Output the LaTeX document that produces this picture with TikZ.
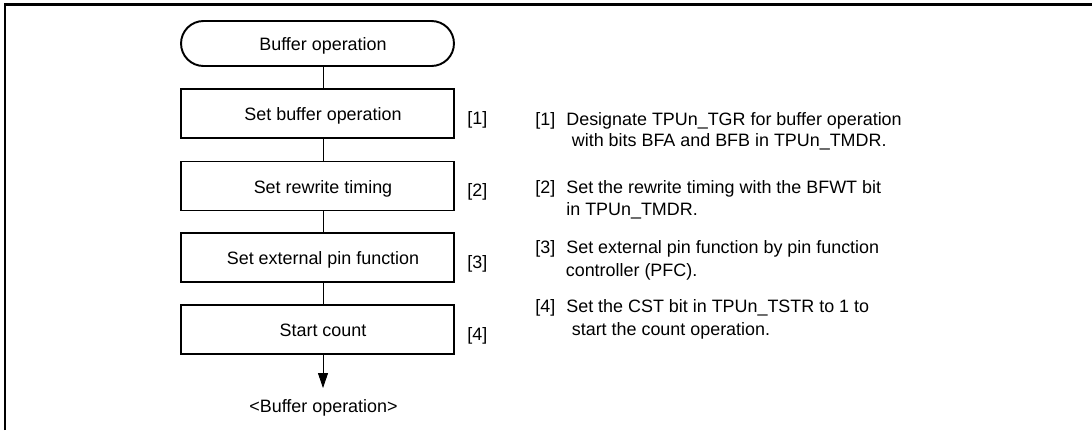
\documentclass[tikz,border=0pt]{standalone}
\usepackage{fontspec}
\setmainfont{Liberation Sans}
\usetikzlibrary{arrows.meta}
\newcommand{\shf}{\hspace*{0.22cm}}
\begin{document}
\begin{tikzpicture}[x=0.02cm,y=-0.02cm,
  txt/.style={font=\fontsize{10.2}{12}\selectfont, inner sep=0pt},
  stepbox/.style={draw, line width=1.1pt, minimum width=5.46cm, minimum height=0.98cm, inner sep=0pt,
    font=\fontsize{10.2}{12}\selectfont, text height=8.5pt, text depth=0pt},
  termbox/.style={draw, line width=1.1pt, minimum width=5.46cm, minimum height=0.9cm, inner sep=0pt,
    rounded corners=0.45cm, font=\fontsize{10.2}{12}\selectfont, text height=8.5pt, text depth=0pt},
  conn/.style={line width=0.45pt},
  frame/.style={line width=1.2pt}]
\useasboundingbox (0,0) rectangle (1092,430);
\coordinate (fl) at (5,430);
\coordinate (fc) at (5,4.5);
\coordinate (fr) at (1092,4.5);
\draw[frame] (fl) -- (fc) -- (fr);

\node[termbox] (start) at (317.5,43.5) {\shf Buffer operation};
\node[stepbox] (b1) at (317.5,113.5) {\shf Set buffer operation};
\node[stepbox] (b2) at (317.5,186) {\shf Set rewrite timing};
\node[stepbox] (b3) at (317.5,257.5) {\shf Set external pin function};
\node[stepbox] (b4) at (317.5,329.5) {\shf Start count};
\coordinate (endpt) at (323,388);
\node[txt, anchor=base] (endtxt) at (323.5,412) {<Buffer operation>};

\draw[conn] (start.south -| endpt) -- (b1.north -| endpt);
\draw[conn] (b1.south -| endpt) -- (b2.north -| endpt);
\draw[conn] (b2.south -| endpt) -- (b3.north -| endpt);
\draw[conn] (b3.south -| endpt) -- (b4.north -| endpt);
\draw[conn, -{Triangle[width=5.7pt,length=8.5pt]}] (b4.south -| endpt) -- (endpt);

\node[txt, anchor=base west] (l1) at (467,124) {[1]};
\node[txt, anchor=base west] (l2) at (467,196) {[2]};
\node[txt, anchor=base west] (l3) at (467,268) {[3]};
\node[txt, anchor=base west] (l4) at (467,340) {[4]};

\node[txt, anchor=base west] (n1) at (535,125) {[1]};
\node[txt, anchor=base west] (d1a) at (566,125) {Designate TPUn\_TGR for buffer operation};
\node[txt, anchor=base west] (d1b) at (571.5,146.7) {with bits BFA and BFB in TPUn\_TMDR.};
\node[txt, anchor=base west] (n2) at (535,193) {[2]};
\node[txt, anchor=base west] (d2a) at (566,193) {Set the rewrite timing with the BFWT bit};
\node[txt, anchor=base west] (d2b) at (566,215) {in TPUn\_TMDR.};
\node[txt, anchor=base west] (n3) at (535,253) {[3]};
\node[txt, anchor=base west] (d3a) at (566,253) {Set external pin function by pin function};
\node[txt, anchor=base west] (d3b) at (565.5,276.7) {controller (PFC).};
\node[txt, anchor=base west] (n4) at (535,312.7) {[4]};
\node[txt, anchor=base west] (d4a) at (566,312.7) {Set the CST bit in TPUn\_TSTR to 1 to};
\node[txt, anchor=base west] (d4b) at (571.5,335) {start the count operation.};
\end{tikzpicture}
\end{document}
